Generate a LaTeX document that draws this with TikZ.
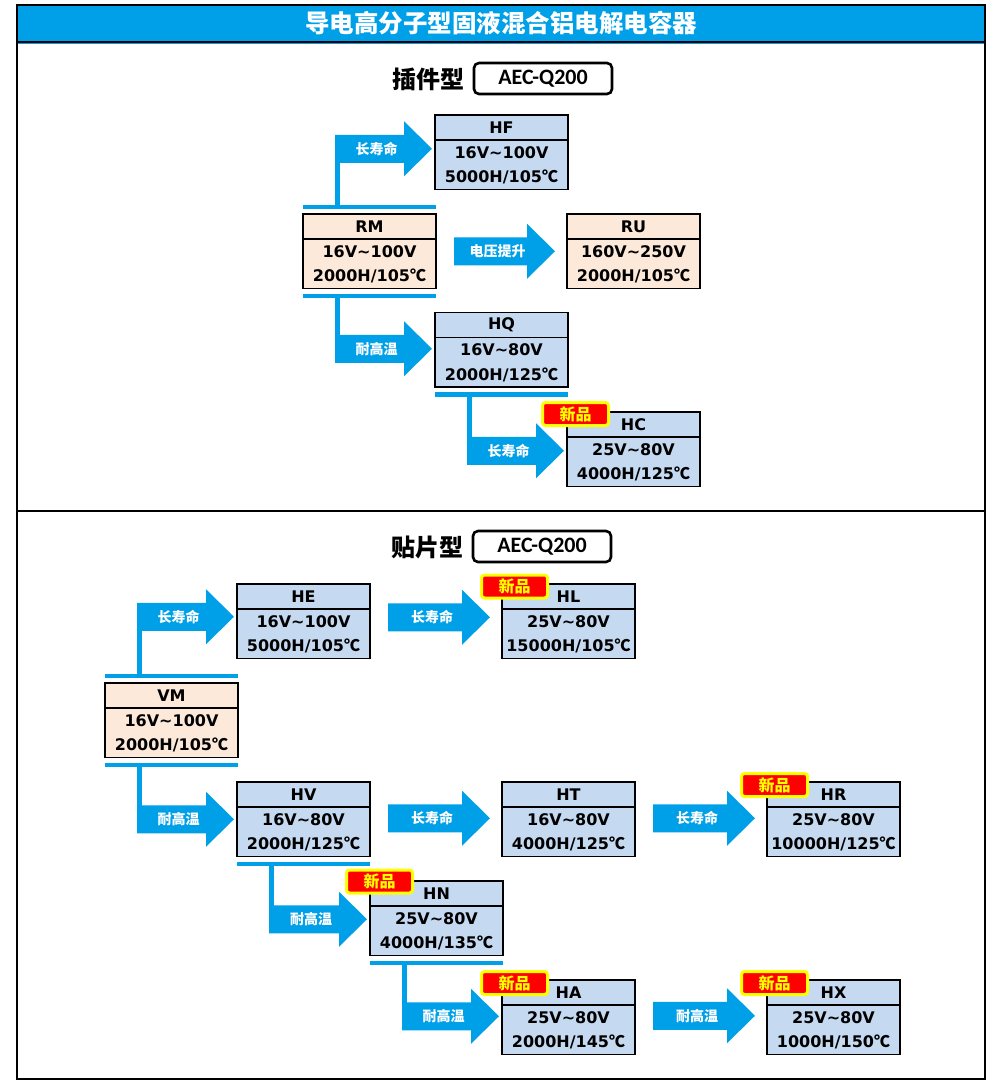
\documentclass[tikz,border=0pt]{standalone}
\usepackage{fontspec}
\setmainfont{DejaVu Sans}
\newfontfamily\cjk{Noto Sans CJK SC}
\newfontfamily\carl{Carlito}[BoldFont={Carlito Bold}]
\usetikzlibrary{calc}
\definecolor{arrblue}{RGB}{0,160,233}
\definecolor{capblue}{RGB}{197,217,241}
\definecolor{cappeach}{RGB}{253,233,217}
\definecolor{badgered}{RGB}{255,0,0}
\definecolor{badgeyel}{RGB}{255,255,0}
\newcommand\dC{{\cjk ℃}}
\newcommand\tld{\textasciitilde}
\tikzset{
 capbox/.style={draw=black, line width=1.8pt, minimum width=133pt, minimum height=74.5pt, inner sep=0pt, outer sep=0pt},
 capline/.style={line width=1.8pt},
 captxt/.style={font=\fontsize{16}{18}\selectfont\bfseries, inner sep=0pt, text=black},
 arrlabel/.style={font=\cjk\fontsize{14}{16}\selectfont\bfseries, text=white, inner sep=0pt},
 badge/.style={fill=badgered, draw=badgeyel, line width=3pt, rounded corners=3pt, minimum width=66pt, minimum height=23pt, inner sep=0pt, font=\cjk\fontsize{16}{18}\selectfont\bfseries, text=badgeyel},
 aecbox/.style={draw=black, line width=2.6pt, rounded corners=5pt, fill=white, minimum width=138pt, minimum height=31pt, inner sep=0pt, font=\carl\fontsize{22}{24}\selectfont\bfseries},
 sectitle/.style={font=\cjk\fontsize{24}{26}\selectfont\bfseries, inner sep=0pt},
}
\newcommand\mkbox[7]{%
  \node[capbox, fill=#4] (#1) at ({#2+66.5},{#3+37.25}) {};
  \draw[capline] ($(#1.north west)+(0,25)$) -- ($(#1.north east)+(0,25)$);
  \node[captxt] (#1-t) at ($(#1.north)+(0,12.5)$) {#5};
  \node[captxt] (#1-a) at ($(#1.north)+(0,37.5)$) {#6};
  \node[captxt] (#1-b) at ($(#1.north)+(0,62)$) {#7};
}
\newcommand\barbelow[1]{%
  \fill[arrblue] ($(#1.south west)+(0,5)$) rectangle ($(#1.south east)+(0,9.5)$);
  \coordinate (#1-bs) at ($(#1.south west)+(32,7)$);
}
\newcommand\barabove[1]{%
  \fill[arrblue] ($(#1.north west)+(0,-5)$) rectangle ($(#1.north east)+(0,-9.5)$);
  \coordinate (#1-bn) at ($(#1.north west)+(32,-7)$);
}
\newcommand\larrow[4]{%
  \coordinate (#2-tip) at ($(#2.west)+(-3,#4)$);
  \fill[arrblue] let \p1=(#2-tip), \p2=(#1) in (\x2,\y2) rectangle (\x2+5pt,\y1);
  \fill[arrblue] let \p1=(#2-tip), \p2=(#1) in
    (\x2,\y1+14pt) -- (\x1-28pt,\y1+14pt) -- (\x1-28pt,\y1+27.5pt) -- (\x1,\y1)
    -- (\x1-28pt,\y1-27.5pt) -- (\x1-28pt,\y1-14pt) -- (\x2,\y1-14pt) -- cycle;
  \path let \p1=(#2-tip), \p2=(#1) in
    node[arrlabel] (#2-lab) at ({(\x2+\x1-28pt)/2+7pt},\y1) {#3};
}
\newcommand\sarrow[4]{%
  \coordinate (#2-tip) at ($(#2.west)+(-12,#4)$);
  \fill[arrblue] let \p1=(#2-tip), \p2=(#1.east) in
    (\x2+18pt,\y1+14pt) -- (\x1-28pt,\y1+14pt) -- (\x1-28pt,\y1+27.5pt) -- (\x1,\y1)
    -- (\x1-28pt,\y1-27.5pt) -- (\x1-28pt,\y1-14pt) -- (\x2+18pt,\y1-14pt) -- cycle;
  \path let \p1=(#2-tip), \p2=(#1.east) in
    node[arrlabel] (#2-lab) at ({(\x2+18pt+\x1-28pt)/2+7pt},\y1) {#3};
}
\begin{document}
\begin{tikzpicture}[x=1pt,y=-1pt]
\useasboundingbox (0,0) rectangle (997,1085);
% frame and title
\fill[arrblue] (17,5) rectangle (985,41.5);
\draw[line width=1.3pt, arrblue] (18,43) -- (984,43);
\draw[line width=2pt] (17,41.5) -- (985,41.5);
\draw[line width=2pt] (17,5) rectangle (985,1079);
\draw[line width=2pt] (17,511) -- (985,511);
\node[font=\cjk\fontsize{24.5}{26}\selectfont\bfseries, text=white, inner sep=0pt] (title) at (501,23.5) {导电高分子型固液混合铝电解电容器};
% section headers
\node[sectitle] (sec1) at (428,79) {插件型};
\node[aecbox] (aec1) at (543,78.5) {AEC-Q200};
\node[sectitle] (sec2) at (427,547) {贴片型};
\node[aecbox] (aec2) at (542,546.5) {AEC-Q200};
% upper section boxes
\mkbox{HF}{435}{115}{capblue}{HF}{16V\tld 100V}{5000H/105\dC}
\mkbox{RM}{303}{214}{cappeach}{RM}{16V\tld 100V}{2000H/105\dC}
\mkbox{RU}{567}{214}{cappeach}{RU}{160V\tld 250V}{2000H/105\dC}
\mkbox{HQ}{435}{312.5}{capblue}{HQ}{16V\tld 80V}{2000H/125\dC}
\mkbox{HC}{567}{412}{capblue}{HC}{25V\tld 80V}{4000H/125\dC}
% lower section boxes
\mkbox{HE}{237}{584}{capblue}{HE}{16V\tld 100V}{5000H/105\dC}
\mkbox{HL}{502}{584}{capblue}{HL}{25V\tld 80V}{15000H/105\dC}
\mkbox{VM}{105}{683}{cappeach}{VM}{16V\tld 100V}{2000H/105\dC}
\mkbox{HV}{237}{782}{capblue}{HV}{16V\tld 80V}{2000H/125\dC}
\mkbox{HT}{502}{782}{capblue}{HT}{16V\tld 80V}{4000H/125\dC}
\mkbox{HR}{767}{782}{capblue}{HR}{25V\tld 80V}{10000H/125\dC}
\mkbox{HN}{370}{881}{capblue}{HN}{25V\tld 80V}{4000H/135\dC}
\mkbox{HA}{502}{980}{capblue}{HA}{25V\tld 80V}{2000H/145\dC}
\mkbox{HX}{767}{980}{capblue}{HX}{25V\tld 80V}{1000H/150\dC}
% bars
\barabove{RM}
\barbelow{RM}
\barbelow{HQ}
\barabove{VM}
\barbelow{VM}
\barbelow{HV}
\barbelow{HN}
% arrows
\larrow{RM-bn}{HF}{长寿命}{-3.5}
\larrow{RM-bs}{HQ}{耐高温}{-1}
\larrow{HQ-bs}{HC}{长寿命}{1.5}
\sarrow{RM}{RU}{电压提升}{0}
\larrow{VM-bn}{HE}{长寿命}{-4.5}
\larrow{VM-bs}{HV}{耐高温}{0}
\larrow{HV-bs}{HN}{耐高温}{1}
\larrow{HN-bs}{HA}{耐高温}{-1}
\sarrow{HE}{HL}{长寿命}{-4}
\sarrow{HV}{HT}{长寿命}{-1}
\sarrow{HT}{HR}{长寿命}{-1}
\sarrow{HA}{HX}{耐高温}{-1.5}
% new badges
\node[badge] (HC-new) at ($(HC.north west)+(8.5,2)$) {新品};
\node[badge] (HN-new) at ($(HN.north west)+(9.5,0.5)$) {新品};
\node[badge] (HL-new) at ($(HL.north west)+(12.5,2.5)$) {新品};
\node[badge] (HR-new) at ($(HR.north west)+(7.5,3)$) {新品};
\node[badge] (HA-new) at ($(HA.north west)+(12.5,3)$) {新品};
\node[badge] (HX-new) at ($(HX.north west)+(7.5,3)$) {新品};
\end{tikzpicture}
\end{document}
